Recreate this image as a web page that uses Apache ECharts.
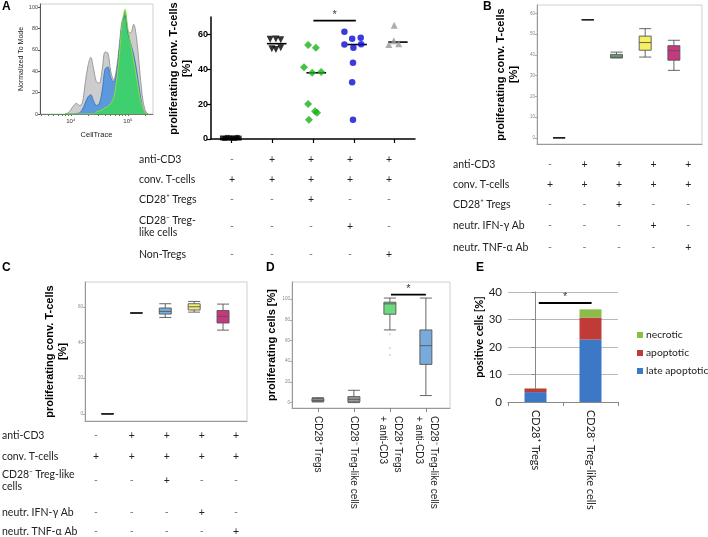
<!DOCTYPE html>
<html><head><meta charset="utf-8">
<script src="https://cdn.jsdelivr.net/npm/echarts@6/dist/echarts.min.js"></script>
<style>html,body{margin:0;padding:0;background:#fff}#c{width:708px;height:537px}</style>
</head><body><div id="c"></div>
<script>
// ================= DATA =================
// Panel A – histogram (x in log10 CellTrace units, y = % of mode)
const histLog10X = [3.90,3.95,4.00,4.05,4.10,4.15,4.20,4.25,4.30,4.35,4.40,4.45,4.50,4.55,4.60,4.65,4.70,4.75,4.80,4.85,4.90,4.95,5.00,5.05,5.10,5.15,5.20,5.25,5.30,5.35];
const histGrey  = [0,1,4,8,10,8,10,28,45,53,42,30,29,42,58,57,40,32,42,65,88,93,78,76,84,72,45,18,4,0];
const histBlue  = [0,0,0,0,0.5,1,4,10,16,18,12,8,10,22,42,44,34,30,38,60,85,92,76,66,56,42,24,8,1,0];
const histGreen = [0,0,0,0,0,0,0,0,0,0,0,2,3,4,6,7,10,15,30,55,85,98,80,65,50,35,18,7,1,0];
const histYTicks = [0,20,40,60,80,100];
const histXTicks = [4,5];
const histXTickLabels = ['10\u2074','10\u2075'];

// Panel A – scatter (x = group index with jitter, y = % proliferating conv. T-cells)
const aControl   = [[0.78,0.6],[0.84,0.3],[0.90,0.9],[0.96,0.4],[1.02,0.7],[1.08,0.3],[1.14,0.9],[1.19,0.5]];
const aAntiCD3   = [[1.95,57.2],[2.09,57.4],[2.21,57.0],[1.99,51.8],[2.09,51.3],[2.21,52.4]];
const aCD28pos   = [[2.88,53.9],[3.07,52.3],[2.78,41.2],[2.98,38.0],[3.20,38.5],[2.88,20.1],[3.05,15.9],[3.10,15.0],[2.90,11.1]];
const aCD28neg   = [[3.77,61.5],[3.96,57.5],[4.17,58.1],[3.77,54.2],[3.99,52.3],[4.18,54.4],[3.98,43.7],[3.96,32.6],[3.98,11.1]];
const aNonTregs  = [[4.99,65.2],[4.86,54.2],[5.10,54.6],[4.98,56.4]];
const aMedianX   = [0.99,2.11,3.08,4.08,5.08];
const aMedianY   = [0.0,54.7,38.0,54.2,55.6];
const aYTicks    = [0,20,40,60];
const aSignif    = [3.01,4.05,67.9];

// Panel B – box stats [min, Q1, median, Q3, max]
const bStats = [[0,0,0,0,0],[56.9,56.9,56.9,56.9,56.9],[38.5,38.6,39.4,40.2,41.3],[38.9,42.2,45.9,49.0,52.6],[32.5,37.4,42.0,44.4,47.0]];
const bYTicks = [0,10,20,30,40,50,60];

// Panel C – box stats
const cStats = [[0,0,0,0,0],[56.6,56.6,56.6,56.6,56.6],[54.1,56.0,57.5,59.4,61.8],[57.1,58.3,60.1,61.8,63.1],[47.0,51.0,54.7,58.0,61.6]];
const cYTicks = [0,20,40,60];

// Panel D – box stats, outliers, categories
const dCategories = ['CD28\u207A Tregs','CD28\u207B Treg-like cells','CD28\u207A Tregs\n+ anti-CD3','CD28\u207B Treg-like cells\n+ anti-CD3'];
const dStats = [[0.6,1.3,2.2,3.9,4.8],[0,0.6,3.2,5.8,11.9],[70.2,85.4,95.4,97.0,101],[6.8,36.9,55.0,70.2,101]];
const dOutliers = [[3,66],[3,52.4],[3,45.9]];
const dYTicks = [0,20,40,60,80,100];
const dSignif = [3.03,4.0,104.4];

// Panel E – stacked bars
const eCategories = ['CD28\u207A Tregs','CD28\u207B Treg-like cells'];
const eLateApoptotic = [3.6,22.7];
const eApoptotic = [1.3,8.0];
const eNecrotic = [0.1,3.0];
const eSignif = [0.06,1.02,36];

// Condition tables
const tableARows = ['anti-CD3','conv. T-cells','CD28\u207A Tregs','CD28\u207B Treg-\nlike cells','Non-Tregs'];
const tableASigns = [['-','+','+','+','+'],['+','+','+','+','+'],['-','-','+','-','-'],['-','-','-','+','-'],['-','-','-','-','+']];
const tableBRows = ['anti-CD3','conv. T-cells','CD28\u207A Tregs','neutr. IFN-\u03B3 Ab','neutr. TNF-\u03B1 Ab'];
const tableBSigns = [['-','+','+','+','+'],['+','+','+','+','+'],['-','-','+','-','-'],['-','-','-','+','-'],['-','-','-','-','+']];
const tableCRows = ['anti-CD3','conv. T-cells','CD28\u207B Treg-like\ncells','neutr. IFN-\u03B3 Ab','neutr. TNF-\u03B1 Ab'];
const tableCSigns = [['-','+','+','+','+'],['+','+','+','+','+'],['-','-','+','-','-'],['-','-','-','+','-'],['-','-','-','-','+']];

// ================= LAYOUT / STYLE =================
const BOLD = 'Liberation Sans, Arial, sans-serif';
const CAL = 'Lato, sans-serif';
const boxFillB = ['#ffffff','#ffffff','#6cce7c','#f7ef62','#c8387f'];
const boxFillC = ['#ffffff','#ffffff','#7aaee0','#f3ee7a','#c8387f'];
const boxFillD = ['#9a9a9a','#9a9a9a','#6fd880','#78aadc'];
const layA = {labelX:139, rowY:[159.5,179.5,200,226.5,254.3], colX:[232,272,311,350,389]};
const layB = {labelX:453, rowY:[165,185,205,226,247.5], colX:[550,584.5,619,653.5,688.3]};
const layC = {labelX:2, rowY:[436,457,481,512.5,531.5], colX:[96,131.7,166.7,201.7,236]};

const zip = (xs, ys) => xs.map((x, i) => [x, ys[i]]);
const log10 = Math.log10;
const histMinor = [];
[1e3,1e4,1e5].forEach(d => { for (let k = 2; k <= 9; k++) { const v = log10(k*d); if (v > 3.46 && v < 5.44) histMinor.push(v); } });

const graphics = [];
function addTable(rows, signs, lay) {
  rows.forEach((r, i) => {
    graphics.push({type:'text', silent:true, style:{text:r, x:lay.labelX, y:lay.rowY[i], font:'10.5px ' + CAL, fill:'#222', textAlign:'left', textVerticalAlign:'middle', lineHeight:12}});
    signs[i].forEach((s, j) => {
      graphics.push({type:'text', silent:true, style:{text:s, x:lay.colX[j], y:lay.rowY[i], font:'10.5px ' + CAL, fill:s === '+' ? '#222' : '#777', textAlign:'center', textVerticalAlign:'middle'}});
    });
  });
}
addTable(tableARows, tableASigns, layA);
addTable(tableBRows, tableBSigns, layB);
addTable(tableCRows, tableCSigns, layC);
[['A',2,1],['B',483,1],['C',2,262],['D',266,262],['E',476,262]].forEach(p => {
  graphics.push({type:'text', silent:true, style:{text:p[0], x:p[1], y:p[2], font:'bold 12px ' + BOLD, fill:'#000', textAlign:'left', textVerticalAlign:'top'}});
});

function boxItems(stats, xs, fills, border) {
  return stats.map((s, i) => ({value:[xs[i]].concat(s), itemStyle:{color:fills[i], borderColor: fills[i] === '#ffffff' ? '#222' : border, borderWidth: 0.9}}));
}
function sigSeries(name, xi, yi, sig, labelSize) {
  const mid = (sig[0] + sig[1]) / 2;
  return [
    {name, type:'line', xAxisIndex:xi, yAxisIndex:yi, symbol:'none', silent:true,
      lineStyle:{color:'#000', width:1.8},
      data:[[sig[0], sig[2]], [sig[1], sig[2]]]},
    {name:name + ' star', type:'scatter', xAxisIndex:xi, yAxisIndex:yi, symbol:'circle', symbolSize:1, silent:true,
      itemStyle:{color:'rgba(0,0,0,0)'},
      label:{show:true, formatter:'*', position:'top', distance:0, fontSize:labelSize, color:'#000', fontFamily:BOLD},
      data:[[mid, sig[2]]]}
  ];
}
const smallY = (ticks) => ({
  axisLine:{show:true, lineStyle:{color:'#999'}},
  axisTick:{show:true, customValues:ticks, length:2, lineStyle:{color:'#aaa'}},
  axisLabel:{show:true, customValues:ticks, fontSize:4.5, color:'#888', margin:2},
  splitLine:{show:false}
});
const yName = (txt, gap, pad) => ({name:txt, nameLocation:'middle', nameGap:gap,
  nameTextStyle:{fontFamily:BOLD, fontWeight:'bold', fontSize:11, color:'#000', lineHeight:12.5, padding:pad || 0}});

const option = {
  animation:false,
  backgroundColor:'#fff',
  graphic:graphics,
  legend:{data:['necrotic','apoptotic','late apoptotic'], orient:'vertical', left:632, top:325, itemWidth:6, itemHeight:6, itemGap:8, icon:'rect',
    textStyle:{fontFamily:CAL, fontSize:10.3, color:'#222', padding:[0,0,0,-2]}, selectedMode:false},
  grid:[
    {left:40, top:4, width:113, height:110, show:true, borderColor:'#c6d6c6', borderWidth:1, backgroundColor:'transparent'},
    {left:211, top:17, width:204, height:122},
    {left:537, top:5, width:165, height:139, show:true, borderColor:'#cfcfcf', borderWidth:1},
    {left:85, top:282, width:162, height:139, show:true, borderColor:'#cfcfcf', borderWidth:1},
    {left:292, top:282, width:158, height:126, show:true, borderColor:'#cfcfcf', borderWidth:1},
    {left:508, top:292, width:110, height:110}
  ],
  xAxis:[
    {type:'value', gridIndex:0, min:3.46, max:5.44,
      axisLine:{show:true, lineStyle:{color:'#777'}},
      axisTick:{show:true, customValues:histMinor.concat(histXTicks), length:2, lineStyle:{color:'#3a9a3a'}},
      axisLabel:{customValues:histXTicks, formatter:v => histXTickLabels[histXTicks.indexOf(Math.round(v))], fontSize:6, color:'#333', margin:4},
      splitLine:{show:false}, name:'CellTrace', nameLocation:'middle', nameGap:17, nameTextStyle:{fontSize:7.5, color:'#222', fontFamily:BOLD}},
    {type:'value', gridIndex:1, min:0.5, max:5.5,
      axisLine:{show:true, onZero:false, lineStyle:{color:'#000', width:1.5}},
      axisTick:{show:true, customValues:[1,2,3,4,5], length:4, lineStyle:{color:'#000', width:1.2}},
      axisLabel:{show:false}, splitLine:{show:false}},
    {type:'value', gridIndex:2, min:0.23, max:5.98, axisLine:{show:true, onZero:false, lineStyle:{color:'#999'}}, axisTick:{show:false}, axisLabel:{show:false}, splitLine:{show:false}},
    {type:'value', gridIndex:3, min:0.22, max:5.83, axisLine:{show:true, onZero:false, lineStyle:{color:'#999'}}, axisTick:{show:false}, axisLabel:{show:false}, splitLine:{show:false}},
    {type:'value', gridIndex:4, min:0.28, max:4.67, axisLine:{show:true, onZero:false, lineStyle:{color:'#999'}},
      axisTick:{show:true, customValues:[1,2,3,4], length:4, lineStyle:{color:'#888'}},
      axisLabel:{show:true, customValues:[1,2,3,4], rotate:-90, margin:8, formatter:v => dCategories[Math.round(v) - 1], fontFamily:BOLD, fontSize:10, lineHeight:15, color:'#222'},
      splitLine:{show:false}},
    {type:'category', gridIndex:5, data:eCategories,
      axisLine:{show:true, lineStyle:{color:'#888'}}, axisTick:{show:true, length:4, lineStyle:{color:'#888'}},
      axisLabel:{interval:0, rotate:-90, margin:8, fontFamily:CAL, fontSize:11, color:'#222'}},
    {type:'value', gridIndex:5, min:-0.5, max:1.5, show:false}
  ],
  yAxis:[
    Object.assign({type:'value', gridIndex:0, min:0, max:103,
      axisLine:{show:true, lineStyle:{color:'#555'}},
      axisTick:{show:true, customValues:histYTicks, length:2, lineStyle:{color:'#555'}},
      axisLabel:{customValues:histYTicks, fontSize:5.5, color:'#444', margin:2},
      splitLine:{show:false}}, {name:'Normalized To Mode', nameLocation:'middle', nameGap:14, nameTextStyle:{fontSize:7, color:'#222', fontFamily:BOLD}}),
    Object.assign({type:'value', gridIndex:1, min:0, max:70,
      axisLine:{show:true, lineStyle:{color:'#000', width:1.5}},
      axisTick:{show:true, customValues:aYTicks, length:4, lineStyle:{color:'#000', width:1.2}},
      axisLabel:{customValues:aYTicks, fontSize:9, fontWeight:'bold', color:'#000', fontFamily:BOLD, margin:3},
      splitLine:{show:false}}, yName('proliferating conv. T-cells\n[%]', 18, [0,0,0,19])),
    Object.assign({type:'value', gridIndex:2, min:-3, max:64}, smallY(bYTicks), yName('proliferating conv. T-cells\n[%]', 17)),
    Object.assign({type:'value', gridIndex:3, min:-4, max:74}, smallY(cYTicks), yName('proliferating conv. T-cells\n[%]', 16)),
    Object.assign({type:'value', gridIndex:4, min:-5.2, max:116.5}, smallY(dYTicks), yName('proliferating cells [%]', 12)),
    Object.assign({type:'value', gridIndex:5, min:0, max:40, interval:10,
      axisLine:{show:true, lineStyle:{color:'#888'}},
      axisTick:{show:true, length:4, lineStyle:{color:'#888'}},
      axisLabel:{fontFamily:CAL, fontSize:11.5, color:'#222', margin:6},
      splitLine:{show:true, lineStyle:{color:'#b8b8b8'}}},
      {name:'positive cells [%]', nameLocation:'middle', nameGap:23, nameTextStyle:{fontFamily:CAL, fontWeight:'bold', fontSize:11, color:'#000', padding:[0,0,0,20]}})
  ],
  series:[
    {name:'grey', type:'line', xAxisIndex:0, yAxisIndex:0, data:zip(histLog10X, histGrey), smooth:0.35, symbol:'none', silent:true,
      lineStyle:{color:'#8a8a8a', width:0.8}, areaStyle:{color:'#cdcdcd', opacity:1}},
    {name:'blue', type:'line', xAxisIndex:0, yAxisIndex:0, data:zip(histLog10X, histBlue), smooth:0.35, symbol:'none', silent:true,
      lineStyle:{color:'#2f6fc0', width:0.8}, areaStyle:{color:'#5b98dc', opacity:1}},
    {name:'green', type:'line', xAxisIndex:0, yAxisIndex:0, data:zip(histLog10X, histGreen), smooth:0.35, symbol:'none', silent:true,
      lineStyle:{color:'#9ade3a', width:0.9}, areaStyle:{color:'#3fcf6e', opacity:1}},

    {name:'control', type:'scatter', xAxisIndex:1, yAxisIndex:1, data:aControl, symbol:'rect', symbolSize:5, itemStyle:{color:'#000'}},
    {name:'anti-CD3', type:'scatter', xAxisIndex:1, yAxisIndex:1, data:aAntiCD3, symbol:'triangle', symbolRotate:180, symbolSize:7, itemStyle:{color:'#000'}},
    {name:'CD28+ Tregs', type:'scatter', xAxisIndex:1, yAxisIndex:1, data:aCD28pos, symbol:'diamond', symbolSize:8, itemStyle:{color:'#18b418'}},
    {name:'CD28- Treg-like', type:'scatter', xAxisIndex:1, yAxisIndex:1, data:aCD28neg, symbol:'circle', symbolSize:6.5, itemStyle:{color:'#0a0ad6'}},
    {name:'Non-Tregs', type:'scatter', xAxisIndex:1, yAxisIndex:1, data:aNonTregs, symbol:'triangle', symbolSize:7, itemStyle:{color:'#9a9a9a'}},
    {name:'medians', type:'custom', xAxisIndex:1, yAxisIndex:1, data:zip(aMedianX, aMedianY), silent:true,
      renderItem:(params, api) => {
        const p1 = api.coord([api.value(0) - 0.24, api.value(1)]);
        const p2 = api.coord([api.value(0) + 0.24, api.value(1)]);
        return {type:'line', shape:{x1:p1[0], y1:p1[1], x2:p2[0], y2:p2[1]}, style:{stroke:'#000', lineWidth:1.6}};
      }},
    ...sigSeries('sigA', 1, 1, aSignif, 11),

    {name:'B', type:'boxplot', xAxisIndex:2, yAxisIndex:2, boxWidth:[12,12], silent:true, data:boxItems(bStats, [1,2,3,4,5], boxFillB, '#555')},
    {name:'C', type:'boxplot', xAxisIndex:3, yAxisIndex:3, boxWidth:[12,12], silent:true, data:boxItems(cStats, [1,2,3,4,5], boxFillC, '#555')},
    {name:'D', type:'boxplot', xAxisIndex:4, yAxisIndex:4, boxWidth:[12,12], silent:true, data:boxItems(dStats, [1,2,3,4], boxFillD, '#555')},
    {name:'D outliers', type:'scatter', xAxisIndex:4, yAxisIndex:4, data:dOutliers, symbol:'circle', symbolSize:2, itemStyle:{color:'#c8c8c8'}},
    ...sigSeries('sigD', 4, 4, dSignif, 11),

    {name:'late apoptotic', type:'bar', xAxisIndex:5, yAxisIndex:5, stack:'e', barWidth:22, data:eLateApoptotic, itemStyle:{color:'#3d78c6'}},
    {name:'apoptotic', type:'bar', xAxisIndex:5, yAxisIndex:5, stack:'e', barWidth:22, data:eApoptotic, itemStyle:{color:'#c03a37'}},
    {name:'necrotic', type:'bar', xAxisIndex:5, yAxisIndex:5, stack:'e', barWidth:22, data:eNecrotic, itemStyle:{color:'#8dbb47'}},
    ...sigSeries('sigE', 6, 5, eSignif, 11)
  ]
};
const chart = echarts.init(document.getElementById('c'), null, {renderer:'canvas'});
chart.setOption(option);
</script>
</body></html>
